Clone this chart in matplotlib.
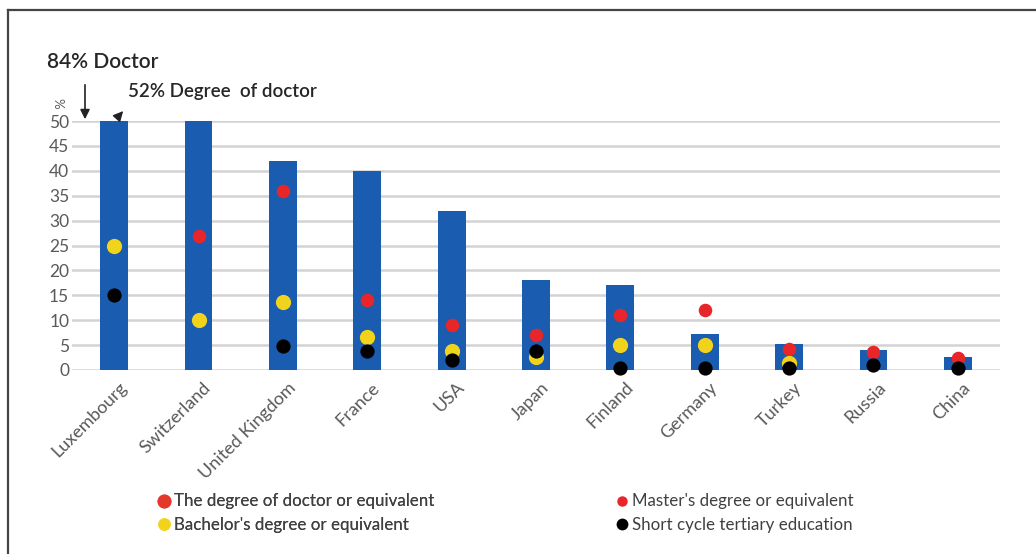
import matplotlib
matplotlib.use("Agg")
import matplotlib.pyplot as plt
from matplotlib.lines import Line2D
import numpy as np

plt.rcParams['font.family'] = ['Lato', 'DejaVu Sans']

countries = ["Luxembourg", "Switzerland", "United Kingdom", "France", "USA", "Japan",
             "Finland", "Germany", "Turkey", "Russia", "China"]
# Share of doctoral degree holders (bars, capped at 50 on the axis)
doctor = [50, 50, 42, 40, 32, 18, 17, 7.2, 5.2, 4.0, 2.6]
master = [np.nan, 27, 36, 14, 9, 7, 11, 12, 4.2, 3.6, 2.4]
bachelor = [25, 10, 13.7, 6.7, 3.9, 2.6, 5, 5, 1.4, np.nan, np.nan]
short_cycle = [15, np.nan, 4.8, 3.9, 2.1, 3.8, 0.4, 0.4, 0.4, 1.0, 0.4]
yticks = list(range(0, 51, 5))

BLUE = "#1A5CB0"
RED = "#E8262A"
ORANGE_RED = "#E4382B"
YELLOW = "#F2D31B"
GRID = "#D3D3D3"
TXT = "#595959"

W, H = 1036, 554
fig = plt.figure(figsize=(W / 100, H / 100), dpi=100)
fig.patch.set_facecolor("white")

# outer frame line (top and left edges visible)
fig.add_artist(Line2D([8 / W, 8 / W], [0, 1 - 10 / H], transform=fig.transFigure,
                      color="#444444", lw=1.6))
fig.add_artist(Line2D([8 / W, 1], [1 - 10 / H, 1 - 10 / H], transform=fig.transFigure,
                      color="#444444", lw=1.6))

ax = fig.add_axes([72 / W, 1 - 370 / H, (1000 - 72) / W, (370 - 121) / H])
x = np.arange(len(countries))
ax.bar(x, doctor, width=0.33, color=BLUE, zorder=2)
ax.scatter(x, master, s=95, color=RED, zorder=3, linewidths=0)
ax.scatter(x, bachelor, s=120, color=YELLOW, zorder=4, linewidths=0)
ax.scatter(x, short_cycle, s=105, color="black", zorder=5, linewidths=0)

ax.set_xlim(-0.5, len(countries) - 0.5)
ax.set_ylim(0, 50)
ax.set_yticks(yticks)
ax.yaxis.grid(True, color=GRID, lw=1.8, zorder=0)
ax.set_axisbelow(True)
for s in ax.spines.values():
    s.set_visible(False)
ax.tick_params(axis="both", length=0, colors=TXT, labelsize=12.5)
ax.tick_params(axis="y", pad=2)
ax.set_xticks(x)
ax.set_xticklabels([])
for art in ax.collections:
    art.set_clip_on(False)

for xi, name in zip(x, countries):
    ax.annotate(name, xy=(xi, 0), xytext=(10, -15), textcoords="offset pixels",
                rotation=45, ha="right", va="center", rotation_mode="anchor",
                fontsize=13, color=TXT)

# axis unit label
fig.text(57 / W, 1 - 103 / H, "%", fontsize=9.5, color=TXT, rotation=-90,
         ha="center", va="center")

# callouts for values beyond the axis range
fig.text(47 / W, 1 - 62 / H, "84% Doctor", fontsize=15, color="#262626",
         fontweight="semibold", ha="left", va="center")
fig.text(128 / W, 1 - 92 / H, "52% Degree  of doctor", fontsize=13.5, color="#262626",
         fontweight="semibold", ha="left", va="center")
ax.annotate("", xy=(85 / W, 1 - 122 / H), xytext=(85 / W, 1 - 82 / H),
            xycoords="figure fraction", textcoords="figure fraction",
            arrowprops=dict(arrowstyle="-|>", color="#222222", lw=1.2, mutation_scale=14))
ax.annotate("", xy=(125 / W, 1 - 109 / H), xytext=(117 / W, 1 - 118 / H),
            xycoords="figure fraction", textcoords="figure fraction",
            arrowprops=dict(arrowstyle="-|>", color="#222222", lw=1.0, mutation_scale=15))

legend_kw = dict(loc="upper left", frameon=False, fontsize=12.2, labelcolor="#404040",
                 handlelength=0.6, handletextpad=0.3, labelspacing=0.45, borderpad=0)
left_handles = [
    Line2D([], [], ls="", marker="o", ms=10, color=ORANGE_RED, mew=0),
    Line2D([], [], ls="", marker="o", ms=9, color=YELLOW, mew=0),
]
right_handles = [
    Line2D([], [], ls="", marker="o", ms=7.5, color=RED, mew=0),
    Line2D([], [], ls="", marker="o", ms=8.5, color="black", mew=0),
]
leg1 = fig.legend(left_handles,
                  ["The degree of doctor or equivalent", "Bachelor's degree or equivalent"],
                  bbox_to_anchor=(150 / W, 1 - 485 / H), **legend_kw)
fig.legend(right_handles,
           ["Master's degree or equivalent", "Short cycle tertiary education"],
           bbox_to_anchor=(608 / W, 1 - 485 / H), **legend_kw)
fig.add_artist(leg1)

fig.savefig("out.png", dpi=100, facecolor="white")
